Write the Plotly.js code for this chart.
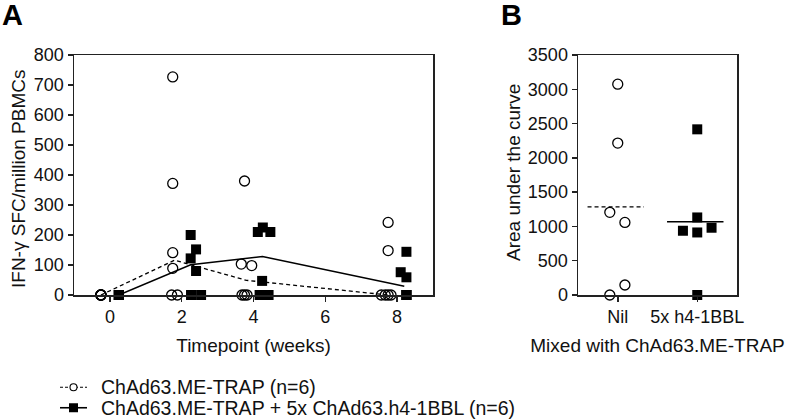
<!DOCTYPE html>
<html>
<head>
<meta charset="utf-8">
<script src="https://cdn.plot.ly/plotly-3.0.1.min.js"></script>
<style>html,body{margin:0;padding:0;background:#fff;}#chart{width:797px;height:420px;}</style>
</head>
<body>
<div id="chart"></div>
<script>
// ---------- Panel A data (IFN-γ SFC/million PBMCs) ----------
const weekTicks = [0, 2, 4, 6, 8];
// ChAd63.ME-TRAP (open circles): x = timepoint (weeks, as plotted with jitter), y = value
const ctrlX = [-0.25, -0.25, -0.25, -0.25, -0.25, -0.25,
               1.75, 1.75, 1.75, 1.75, 1.72, 1.88,
               3.75, 3.66, 3.95, 3.68, 3.75, 3.82,
               7.75, 7.75, 7.56, 7.67, 7.75, 7.83];
const ctrlY = [0, 0, 0, 0, 0, 0,
               727, 372, 141, 89, 0, 0,
               380, 103, 98, 0, 0, 0,
               242, 148, 0, 0, 0, 0];
// ChAd63.ME-TRAP + 5x ChAd63.h4-1BBL (filled squares)
const bblX = [0.25, 0.25, 0.25, 0.25, 0.25, 0.25,
              2.25, 2.4, 2.25, 2.4, 2.26, 2.54,
              4.12, 4.26, 4.47, 4.24, 4.17, 4.42,
              8.26, 8.1, 8.26, 8.26, 8.26, 8.26];
const bblY = [0, 0, 0, 0, 0, 0,
              200, 152, 122, 80, 0, 0,
              210, 225, 210, 47, 0, 0,
              144, 76, 59, 0, 0, 0];
// median lines
const ctrlLineX = [-0.25, 1.8, 3.8, 7.75];
const ctrlMedian = [0, 116, 49, 0];
const bblLineX = [0.25, 2.25, 4.25, 8.2];
const bblMedian = [0, 101, 128, 29];

// ---------- Panel B data (Area under the curve) ----------
const groups = ["Nil", "5x h4-1BBL"];
const nilX = [0, 0, -0.1, 0.09, -0.1, 0.09];
const nilAUC = [3075, 2216, 1205, 1059, 0, 146];
const h4X = [1, 1, 0.82, 1, 1.18, 1];
const h4AUC = [2416, 1131, 937, 912, 981, 0];
const nilMeanX = [-0.38, 0.33];
const nilMean = [1285, 1285];
const h4MeanX = [0.62, 1.33];
const h4Mean = [1070, 1070];

// ---------- Legend ----------
const legendLabels = ["ChAd63.ME-TRAP (n=6)", "ChAd63.ME-TRAP + 5x ChAd63.h4-1BBL (n=6)"];
const legendRows = [1, 0];
const legendLineX = [0, 1];
const legendMarkX = [0.5];

const FONT = "Liberation Sans, Arial, Helvetica, sans-serif";
const INK = '#111';
const DASH = '4px,3px';
const circleMarker = {symbol: 'circle-open', size: 10, color: '#000', line: {width: 1.3, color: '#000'}};
const squareMarker = {symbol: 'square', size: 10, color: '#000', line: {width: 0}};

const traces = [
  {x: ctrlLineX, y: ctrlMedian, mode: 'lines', line: {color: '#000', width: 1.3, dash: DASH},
   xaxis: 'x', yaxis: 'y', hoverinfo: 'skip'},
  {x: bblLineX, y: bblMedian, mode: 'lines', line: {color: '#000', width: 1.5},
   xaxis: 'x', yaxis: 'y', hoverinfo: 'skip'},
  {x: ctrlX, y: ctrlY, mode: 'markers', marker: circleMarker, cliponaxis: false,
   xaxis: 'x', yaxis: 'y', name: legendLabels[0]},
  {x: bblX, y: bblY, mode: 'markers', marker: squareMarker, cliponaxis: false,
   xaxis: 'x', yaxis: 'y', name: legendLabels[1]},
  // Panel B
  {x: nilMeanX, y: nilMean, mode: 'lines', line: {color: '#000', width: 1.3, dash: DASH},
   xaxis: 'x2', yaxis: 'y2', hoverinfo: 'skip'},
  {x: h4MeanX, y: h4Mean, mode: 'lines', line: {color: '#000', width: 1.5},
   xaxis: 'x2', yaxis: 'y2', hoverinfo: 'skip'},
  {x: nilX, y: nilAUC, mode: 'markers', marker: circleMarker, cliponaxis: false,
   xaxis: 'x2', yaxis: 'y2'},
  {x: h4X, y: h4AUC, mode: 'markers', marker: squareMarker, cliponaxis: false,
   xaxis: 'x2', yaxis: 'y2'},
  // Legend symbols (drawn on a hidden helper axis)
  {x: legendLineX, y: [legendRows[0], legendRows[0]], mode: 'lines', line: {color: '#000', width: 1.2, dash: '3px,2px'},
   xaxis: 'x3', yaxis: 'y3', hoverinfo: 'skip'},
  {x: legendMarkX, y: [legendRows[0]], mode: 'markers',
   marker: {symbol: 'circle', size: 7, color: '#fff', line: {width: 1.1, color: '#000'}},
   xaxis: 'x3', yaxis: 'y3', cliponaxis: false, hoverinfo: 'skip'},
  {x: legendLineX, y: [legendRows[1], legendRows[1]], mode: 'lines', line: {color: '#000', width: 1.6},
   xaxis: 'x3', yaxis: 'y3', hoverinfo: 'skip'},
  {x: legendMarkX, y: [legendRows[1]], mode: 'markers',
   marker: {symbol: 'square', size: 9, color: '#000'},
   xaxis: 'x3', yaxis: 'y3', cliponaxis: false, hoverinfo: 'skip'}
];

const axisCommon = {
  showgrid: false, zeroline: false, showline: true, mirror: true,
  linecolor: '#222', linewidth: 1.5, ticks: 'outside', ticklen: 5, tickwidth: 1.5,
  tickcolor: '#222', tickfont: {family: FONT, size: 18, color: INK}, automargin: false
};
const hiddenAxis = {visible: false, showgrid: false, zeroline: false, fixedrange: true};

const layout = {
  width: 797, height: 420,
  margin: {l: 0, r: 0, t: 0, b: 0},
  paper_bgcolor: '#fff', plot_bgcolor: 'rgba(0,0,0,0)',
  font: {family: FONT, color: INK},
  showlegend: false,
  xaxis: Object.assign({}, axisCommon, {
    domain: [74/797, 433/797], range: [-1, 9], tickvals: weekTicks, anchor: 'y',
    title: {text: 'Timepoint (weeks)', font: {family: FONT, size: 19, color: INK}, standoff: 12}
  }),
  yaxis: Object.assign({}, axisCommon, {
    domain: [125/420, 365/420], range: [0, 800], dtick: 100, anchor: 'x'
  }),
  xaxis2: Object.assign({}, axisCommon, {
    domain: [578/797, 737/797], range: [-0.5, 1.5], tickvals: [0, 1], ticktext: groups, anchor: 'y2',
    title: {text: 'Mixed with ChAd63.ME-TRAP', font: {family: FONT, size: 19, color: INK}, standoff: 12}
  }),
  yaxis2: Object.assign({}, axisCommon, {
    domain: [125/420, 365/420], range: [0, 3500], dtick: 500, anchor: 'x2'
  }),
  xaxis3: Object.assign({}, hiddenAxis, {domain: [60/797, 87/797], range: [0, 1], anchor: 'y3'}),
  yaxis3: Object.assign({}, hiddenAxis, {domain: [2/420, 43/420], range: [-0.5, 1.5], anchor: 'x3'}),
  annotations: [
    {text: '<b>A</b>', x: 0, y: 1 + 3/420, xref: 'paper', yref: 'paper', xanchor: 'left', yanchor: 'top',
     showarrow: false, font: {family: FONT, size: 29, color: '#000'}},
    {text: '<b>B</b>', x: 499/797, y: 1 + 3/420, xref: 'paper', yref: 'paper', xanchor: 'left', yanchor: 'top',
     showarrow: false, font: {family: FONT, size: 29, color: '#000'}},
    {text: 'IFN-γ SFC/million PBMCs', textangle: -90, x: 18/797, y: 1 - 179/420, xref: 'paper', yref: 'paper',
     xanchor: 'center', yanchor: 'middle', showarrow: false, font: {family: FONT, size: 19, color: INK}},
    {text: 'Area under the curve', textangle: -90, x: 513/797, y: 1 - 173/420, xref: 'paper', yref: 'paper',
     xanchor: 'center', yanchor: 'middle', showarrow: false, font: {family: FONT, size: 19, color: INK}},
    {text: legendLabels[0], x: 1, y: legendRows[0], xref: 'x3', yref: 'y3', xshift: 12,
     xanchor: 'left', yanchor: 'middle', showarrow: false, font: {family: FONT, size: 19.5, color: INK}},
    {text: legendLabels[1], x: 1, y: legendRows[1], xref: 'x3', yref: 'y3', xshift: 12,
     xanchor: 'left', yanchor: 'middle', showarrow: false, font: {family: FONT, size: 19.5, color: INK}}
  ]
};

Plotly.newPlot('chart', traces, layout, {staticPlot: true, displayModeBar: false});
</script>
</body>
</html>
